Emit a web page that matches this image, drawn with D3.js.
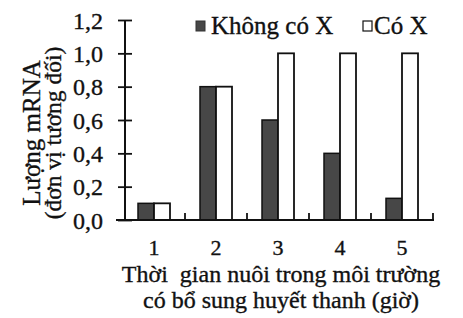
<!DOCTYPE html>
<html>
<head>
<meta charset="utf-8">
<script src="https://cdn.jsdelivr.net/npm/d3@7"></script>
<style>
  body { margin: 0; background: #fff; }
  text { font-family: "Liberation Serif", "DejaVu Serif", serif; fill: #111; stroke: #111; stroke-width: 0.35px; }
</style>
</head>
<body>
<div id="chart"></div>
<script>
'use strict';
var categories = ["1", "2", "3", "4", "5"];
var khongCoX = [0.1, 0.8, 0.6, 0.4, 0.13];
var coX = [0.1, 0.8, 1.0, 1.0, 1.0];
var yTicks = [0, 0.2, 0.4, 0.6, 0.8, 1.0, 1.2];
var seriesNames = ["Không có X", "Có X"];
var yTitle = ["Lượng mRNA", "(đơn vị tương đối)"];
var xTitle = ["Thời  gian nuôi trong môi trường", "có bổ sung huyết thanh (giờ)"];

var width = 463, height = 318;
var fontSize = 24;
var darkFill = "#474747";

var svg = d3.select("#chart").append("svg")
    .attr("width", width)
    .attr("height", height);

svg.append("rect").attr("width", width).attr("height", height).attr("fill", "#fff");

var x = d3.scaleBand().domain(categories).range([123, 433]).padding(0);
var y = d3.scaleLinear().domain([0, 1.2]).range([220, 20]);
var barW = 16;

// bars
var data = categories.map(function (c, i) {
    return {cat: c, a: khongCoX[i], b: coX[i]};
});
var g = svg.append("g");
g.selectAll(".bar-a").data(data).enter().append("rect")
    .attr("x", function (d) { return x(d.cat) + x.bandwidth() / 2 - barW; })
    .attr("y", function (d) { return y(d.a); })
    .attr("width", barW)
    .attr("height", function (d) { return y(0) - y(d.a); })
    .attr("fill", darkFill)
    .attr("stroke", "#111")
    .attr("stroke-width", 1.5);
g.selectAll(".bar-b").data(data).enter().append("rect")
    .attr("x", function (d) { return x(d.cat) + x.bandwidth() / 2; })
    .attr("y", function (d) { return y(d.b); })
    .attr("width", barW)
    .attr("height", function (d) { return y(0) - y(d.b); })
    .attr("fill", "#fff")
    .attr("stroke", "#111")
    .attr("stroke-width", 1.8);

// y axis
var fmt = function (v) { return d3.format(".1f")(v).replace(".", ","); };
var yAxis = svg.append("g")
    .attr("transform", "translate(125,0)")
    .call(d3.axisLeft(y).tickValues(yTicks).tickFormat(fmt).tickSize(7).tickPadding(15));
yAxis.select(".domain").remove();
yAxis.append("line").attr("y1", y(1.2)).attr("y2", y(0)).attr("stroke", "#111").attr("stroke-width", 2);
yAxis.selectAll(".tick line").attr("x1", 7).attr("x2", -7).attr("stroke", "#111").attr("stroke-width", 1.8);
yAxis.selectAll(".tick text")
    .attr("font-size", fontSize)
    .attr("dy", "0.34em")
    .attr("fill", "#111");

// x axis
var xAxis = svg.append("g").attr("transform", "translate(0,220)");
xAxis.append("line").attr("x1", 116).attr("x2", 434).attr("stroke", "#111").attr("stroke-width", 2);
xAxis.selectAll(".xt").data(categories).enter().append("line")
    .attr("x1", function (d) { return x(d) + x.bandwidth(); })
    .attr("x2", function (d) { return x(d) + x.bandwidth(); })
    .attr("y1", 0).attr("y2", -7)
    .attr("stroke", "#111").attr("stroke-width", 1.8);
xAxis.selectAll(".xl").data(categories).enter().append("text")
    .attr("x", function (d) { return x(d) + x.bandwidth() / 2; })
    .attr("y", 35)
    .attr("text-anchor", "middle")
    .attr("font-size", 22)
    .text(function (d) { return d; });

// x title
svg.selectAll(".xtitle").data(xTitle).enter().append("text")
    .attr("x", 281)
    .attr("y", function (d, i) { return 282 + i * 26; })
    .attr("text-anchor", "middle")
    .attr("font-size", fontSize)
    .style("white-space", "pre")
    .text(function (d) { return d; });

// y title
svg.selectAll(".ytitle").data(yTitle).enter().append("text")
    .attr("transform", function (d, i) {
        return "translate(" + (40 + i * 21) + "," + 133 + ") rotate(-90)";
    })
    .attr("text-anchor", "middle")
    .attr("font-size", function (d, i) { return i === 0 ? 25 : 23.5; })
    .text(function (d) { return d; });

// legend
var legend = svg.append("g");
legend.append("rect").attr("x", 196).attr("y", 21).attr("width", 9).attr("height", 10)
    .attr("fill", darkFill).attr("stroke", "#333").attr("stroke-width", 1);
legend.append("text").attr("x", 211).attr("y", 34).attr("font-size", 25).text(seriesNames[0]);
legend.append("rect").attr("x", 363).attr("y", 21).attr("width", 9).attr("height", 10)
    .attr("fill", "#fff").attr("stroke", "#111").attr("stroke-width", 1.2);
legend.append("text").attr("x", 374).attr("y", 34).attr("font-size", 25).text(seriesNames[1]);
</script>
</body>
</html>
